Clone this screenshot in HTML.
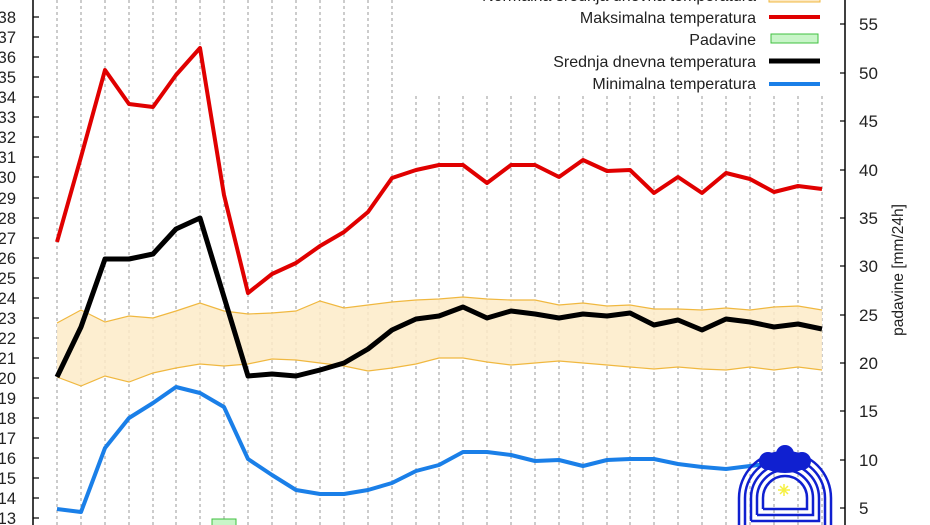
<!DOCTYPE html>
<html><head><meta charset="utf-8"><style>
html,body{margin:0;padding:0;background:#fff;width:930px;height:525px;overflow:hidden}
svg{display:block;font-family:"Liberation Sans",sans-serif}
</style></head><body>
<svg width="930" height="525" viewBox="0 0 930 525" xmlns="http://www.w3.org/2000/svg">
<g stroke="#999" stroke-width="1" stroke-dasharray="3,3">
<line x1="57" y1="0" x2="57" y2="525"/><line x1="81" y1="0" x2="81" y2="525"/><line x1="105" y1="0" x2="105" y2="525"/><line x1="129" y1="0" x2="129" y2="525"/><line x1="153" y1="0" x2="153" y2="525"/><line x1="176" y1="0" x2="176" y2="525"/><line x1="200" y1="0" x2="200" y2="525"/><line x1="224" y1="0" x2="224" y2="525"/><line x1="248" y1="0" x2="248" y2="525"/><line x1="272" y1="0" x2="272" y2="525"/><line x1="296" y1="0" x2="296" y2="525"/><line x1="320" y1="0" x2="320" y2="525"/><line x1="344" y1="0" x2="344" y2="525"/><line x1="368" y1="0" x2="368" y2="525"/><line x1="392" y1="0" x2="392" y2="525"/>
<line x1="416" y1="96" x2="416" y2="525"/><line x1="439" y1="96" x2="439" y2="525"/><line x1="463" y1="96" x2="463" y2="525"/><line x1="487" y1="96" x2="487" y2="525"/><line x1="511" y1="96" x2="511" y2="525"/><line x1="535" y1="96" x2="535" y2="525"/><line x1="559" y1="96" x2="559" y2="525"/><line x1="583" y1="96" x2="583" y2="525"/><line x1="607" y1="96" x2="607" y2="525"/><line x1="630" y1="96" x2="630" y2="525"/><line x1="654" y1="96" x2="654" y2="525"/><line x1="678" y1="96" x2="678" y2="525"/><line x1="702" y1="96" x2="702" y2="525"/><line x1="726" y1="96" x2="726" y2="525"/><line x1="750" y1="96" x2="750" y2="525"/><line x1="774" y1="96" x2="774" y2="525"/><line x1="798" y1="96" x2="798" y2="525"/><line x1="822" y1="96" x2="822" y2="525"/>
</g>
<polygon fill="#fdebc8" fill-opacity="0.85" points="57,323 81,310 105,322 129,316 153,318 176,311 200,303 224,311 248,314 272,313 296,311 320,301 344,308 368,305 392,302 416,300 439,299 463,297 487,299 511,300 535,300 559,305 583,303 607,306 630,305 654,309 678,309 702,310 726,308 750,310 774,307 798,306 822,310 822,370 798,367 774,370 750,367 726,370 702,369 678,367 654,369 630,367 607,365 583,363 559,361 535,363 511,365 487,362 463,358 439,358 416,364 392,368 368,371 344,366 320,363 296,360 272,359 248,364 224,366 200,364 176,368 153,373 129,382 105,376 81,386 57,377"/>
<g fill="none" stroke="#f0b840" stroke-width="1.2">
<polyline points="57,323 81,310 105,322 129,316 153,318 176,311 200,303 224,311 248,314 272,313 296,311 320,301 344,308 368,305 392,302 416,300 439,299 463,297 487,299 511,300 535,300 559,305 583,303 607,306 630,305 654,309 678,309 702,310 726,308 750,310 774,307 798,306 822,310"/>
<polyline points="57,377 81,386 105,376 129,382 153,373 176,368 200,364 224,366 248,364 272,359 296,360 320,363 344,366 368,371 392,368 416,364 439,358 463,358 487,362 511,365 535,363 559,361 583,363 607,365 630,367 654,369 678,367 702,369 726,370 750,367 774,370 798,367 822,370"/>
</g>
<rect x="212" y="519" width="24" height="8" fill="#c8f5c8" stroke="#40c040" stroke-width="1"/>
<g fill="none" stroke-width="4" stroke-linejoin="round">
<polyline stroke="#e00000" points="57,242 81,157 105,70 129,104 153,107 176,75 200,48 224,195 248,293 272,274 296,263 320,246 344,232 368,212 392,178 416,170 439,165 463,165 487,183 511,165 535,165 559,177 583,160 607,171 630,170 654,193 678,177 702,193 726,173 750,179 774,192 798,186 822,189"/>
<polyline stroke="#1a7fe8" points="57,509 81,512 105,448 129,418 153,403 176,387 200,393 224,407 248,459 272,475 296,490 320,494 344,494 368,490 392,483 416,471 439,465 463,452 487,452 511,455 535,461 559,460 583,466 607,460 630,459 654,459 678,464 702,467 726,469 750,466 774,463"/>
<polyline stroke="#000" stroke-width="5" points="57,377 81,327 105,259 129,259 153,254 176,229 200,218 224,297 248,376 272,374 296,376 320,370 344,363 368,349 392,330 416,319 439,316 463,307 487,318 511,311 535,314 559,318 583,314 607,316 630,313 654,325 678,320 702,330 726,319 750,322 774,327 798,324 822,329"/>
</g>
<g fill="none" stroke="#1020d0" stroke-width="2.5">
<path d="M739,525 V498 A46,46 0 0 1 831,498 V525"/>
<path d="M745,525 V498 A40,40 0 0 1 825,498 V525"/>
<path d="M751,521 V498 A34,34 0 0 1 819,498 V521 H751"/>
<path d="M757,515 V498 A28,28 0 0 1 813,498 V515 H757"/>
<path d="M763,509 V498 A22,22 0 0 1 807,498 V509 H763"/>
</g>
<ellipse cx="785" cy="462" rx="24" ry="11" fill="#1020d0"/>
<circle cx="768" cy="461" r="9" fill="#1020d0"/><circle cx="802" cy="461" r="9" fill="#1020d0"/><circle cx="785" cy="454" r="9" fill="#1020d0"/>
<g stroke="#f5f040" stroke-width="1.5"><line x1="778" y1="490" x2="790" y2="490"/><line x1="784" y1="484" x2="784" y2="496"/><line x1="780" y1="486" x2="788" y2="494"/><line x1="788" y1="486" x2="780" y2="494"/></g>
<g stroke="#000" stroke-width="1.5">
<line x1="33" y1="0" x2="33" y2="525"/><line x1="845" y1="0" x2="845" y2="525"/>
</g>
<g stroke="#000" stroke-width="1.2">
<line x1="33" y1="17" x2="39" y2="17"/><line x1="33" y1="37" x2="39" y2="37"/><line x1="33" y1="57" x2="39" y2="57"/><line x1="33" y1="77" x2="39" y2="77"/><line x1="33" y1="97" x2="39" y2="97"/><line x1="33" y1="117" x2="39" y2="117"/><line x1="33" y1="137" x2="39" y2="137"/><line x1="33" y1="157" x2="39" y2="157"/><line x1="33" y1="177" x2="39" y2="177"/><line x1="33" y1="198" x2="39" y2="198"/><line x1="33" y1="218" x2="39" y2="218"/><line x1="33" y1="238" x2="39" y2="238"/><line x1="33" y1="258" x2="39" y2="258"/><line x1="33" y1="278" x2="39" y2="278"/><line x1="33" y1="298" x2="39" y2="298"/><line x1="33" y1="318" x2="39" y2="318"/><line x1="33" y1="338" x2="39" y2="338"/><line x1="33" y1="358" x2="39" y2="358"/><line x1="33" y1="378" x2="39" y2="378"/><line x1="33" y1="398" x2="39" y2="398"/><line x1="33" y1="418" x2="39" y2="418"/><line x1="33" y1="438" x2="39" y2="438"/><line x1="33" y1="458" x2="39" y2="458"/><line x1="33" y1="478" x2="39" y2="478"/><line x1="33" y1="498" x2="39" y2="498"/><line x1="33" y1="518" x2="39" y2="518"/>
<line x1="840" y1="24" x2="845" y2="24"/><line x1="840" y1="73" x2="845" y2="73"/><line x1="840" y1="121" x2="845" y2="121"/><line x1="840" y1="170" x2="845" y2="170"/><line x1="840" y1="218" x2="845" y2="218"/><line x1="840" y1="266" x2="845" y2="266"/><line x1="840" y1="315" x2="845" y2="315"/><line x1="840" y1="363" x2="845" y2="363"/><line x1="840" y1="411" x2="845" y2="411"/><line x1="840" y1="460" x2="845" y2="460"/><line x1="840" y1="508" x2="845" y2="508"/>
</g>
<g font-size="16.5" fill="#222" text-anchor="end">
<text x="16" y="-2">39</text><text x="16" y="23">38</text><text x="16" y="43">37</text><text x="16" y="63">36</text><text x="16" y="83">35</text><text x="16" y="103">34</text><text x="16" y="123">33</text><text x="16" y="143">32</text><text x="16" y="163">31</text><text x="16" y="183">30</text><text x="16" y="204">29</text><text x="16" y="224">28</text><text x="16" y="244">27</text><text x="16" y="264">26</text><text x="16" y="284">25</text><text x="16" y="304">24</text><text x="16" y="324">23</text><text x="16" y="344">22</text><text x="16" y="364">21</text><text x="16" y="384">20</text><text x="16" y="404">19</text><text x="16" y="424">18</text><text x="16" y="444">17</text><text x="16" y="464">16</text><text x="16" y="484">15</text><text x="16" y="504">14</text><text x="16" y="524">13</text>
</g>
<g font-size="17" fill="#222">
<text x="859" y="30">55</text><text x="859" y="79">50</text><text x="859" y="127">45</text><text x="859" y="176">40</text><text x="859" y="224">35</text><text x="859" y="272">30</text><text x="859" y="321">25</text><text x="859" y="369">20</text><text x="859" y="417">15</text><text x="859" y="466">10</text><text x="859" y="514">5</text>
</g>
<text x="0" y="0" transform="translate(903,270) rotate(-90)" text-anchor="middle" font-size="15.5" fill="#222">padavine [mm/24h]</text>
<rect x="420" y="0" width="410" height="95" fill="#fff"/>
<g font-size="16" fill="#222" text-anchor="end">
<text x="756" y="1">Normalna srednja dnevna temperatura</text>
<text x="756" y="23">Maksimalna temperatura</text>
<text x="756" y="45">Padavine</text>
<text x="756" y="67">Srednja dnevna temperatura</text>
<text x="756" y="89">Minimalna temperatura</text>
</g>
<rect x="769" y="-6" width="51" height="8" fill="#fde9c3" stroke="#f0b840"/>
<line x1="769" y1="17" x2="820" y2="17" stroke="#e00000" stroke-width="4"/>
<rect x="771" y="34" width="47" height="9" fill="#c8f5c8" stroke="#40c040"/>
<line x1="769" y1="61" x2="820" y2="61" stroke="#000" stroke-width="5"/>
<line x1="769" y1="84" x2="820" y2="84" stroke="#1a7fe8" stroke-width="4"/>
</svg>
</body></html>
